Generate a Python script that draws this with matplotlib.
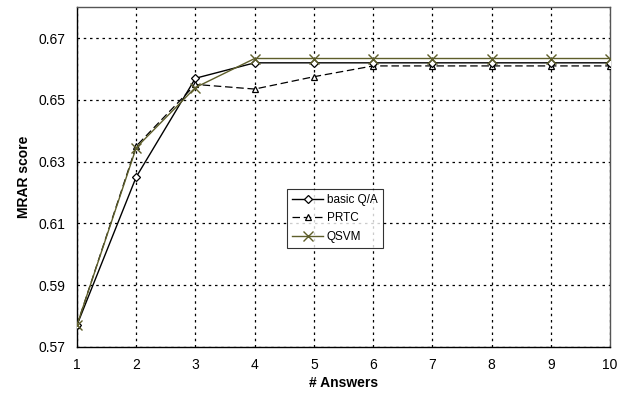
import matplotlib
matplotlib.use('Agg')
import matplotlib.pyplot as plt

plt.rcParams['font.family'] = ['Liberation Sans', 'DejaVu Sans']

# data
answers = [1, 2, 3, 4, 5, 6, 7, 8, 9, 10]
basic_qa = [0.577, 0.625, 0.657, 0.662, 0.662, 0.662, 0.662, 0.662, 0.662, 0.662]
prtc     = [0.577, 0.635, 0.655, 0.6535, 0.6575, 0.661, 0.661, 0.661, 0.661, 0.661]
qsvm     = [0.577, 0.6345, 0.654, 0.6634, 0.6634, 0.6634, 0.6634, 0.6634, 0.6634, 0.6634]

y_ticks = [0.57, 0.59, 0.61, 0.63, 0.65, 0.67]

OLIVE = '#5e5e2a'

fig = plt.figure(figsize=(6.32, 3.94), dpi=100, facecolor='white')
ax = fig.add_axes([0.1218, 0.12, 0.8434, 0.8615])

ax.plot(answers, basic_qa, '-', color='black', lw=1.0, marker='D',
        ms=4.2, mfc='white', mec='black', mew=0.9, label='basic Q/A', zorder=4)
ax.plot(answers, prtc, '--', color='black', lw=0.9, dashes=(6, 3), marker='^',
        ms=5, mfc='white', mec='black', mew=0.9, label='PRTC', zorder=3)
ax.plot(answers, qsvm, '-', color=OLIVE, lw=1.0, marker='x',
        ms=6.5, mec=OLIVE, mew=1.0, label='QSVM', zorder=5)

ax.set_xlim(1, 10)
ax.set_ylim(0.57, 0.68)
ax.set_xticks(answers)
ax.set_yticks(y_ticks)
ax.set_yticklabels([f'{v:.2f}' for v in y_ticks])
ax.tick_params(length=0, labelsize=10, pad=8)
ax.grid(True, color='black', linestyle=(0, (2, 3)), lw=0.9)

for s in ax.spines.values():
    s.set_color('black')
    s.set_linewidth(1.0)
ax.spines['top'].set_color('#555555')
ax.spines['right'].set_color('#555555')

ax.set_xlabel('# Answers', fontsize=10, fontweight='bold', labelpad=3)
ax.set_ylabel('MRAR score', fontsize=10, fontweight='bold', labelpad=6)

leg = ax.legend(loc='center', bbox_to_anchor=(0.484, 0.378), fontsize=8.5,
                frameon=True, fancybox=False, edgecolor='black',
                handlelength=2.6, handletextpad=0.3, borderpad=0.45,
                labelspacing=0.55)
leg.get_frame().set_linewidth(0.8)

fig.savefig('out.png', dpi=100, facecolor='white')
